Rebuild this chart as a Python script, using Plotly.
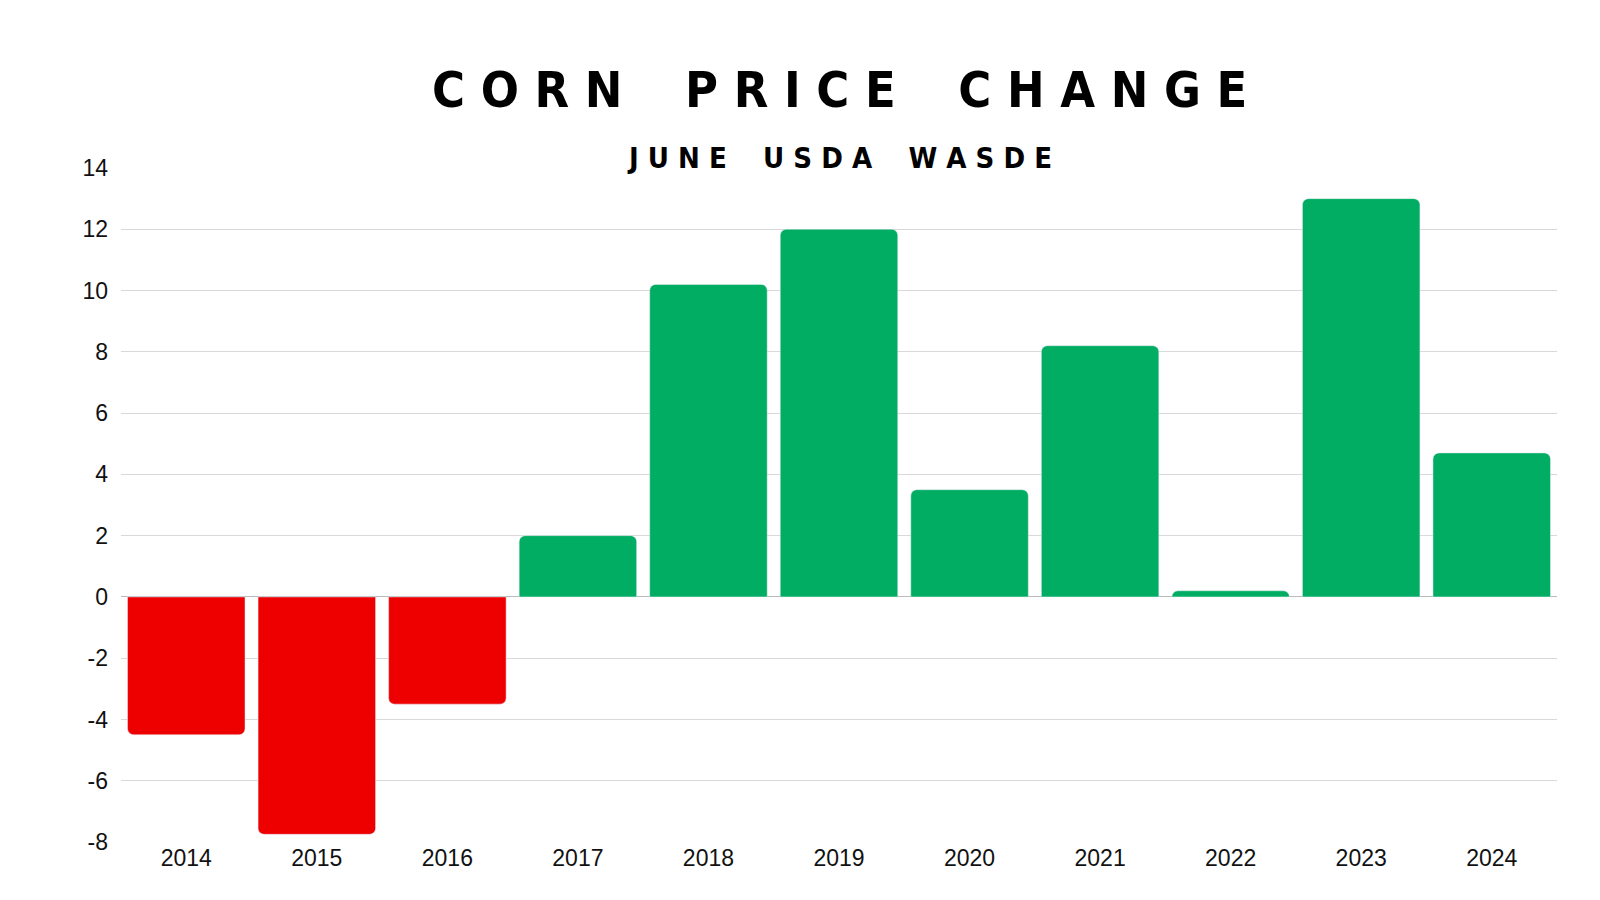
import plotly.graph_objects as go

years = ["2014", "2015", "2016", "2017", "2018", "2019", "2020", "2021", "2022", "2023", "2024"]
change = [-4.5, -7.75, -3.5, 2.0, 10.2, 12.0, 3.5, 8.2, 0.2, 13.0, 4.7]
tick_vals = list(range(-8, 15, 2))
tick_text = [str(v) for v in tick_vals]  # plain hyphens like the reference
colors = ["#ee0000" if v < 0 else "#00ad62" for v in change]


def spaced(s):
    return " ".join(ch if ch != " " else "  " for ch in s)


fig = go.Figure(go.Bar(x=years, y=change, marker=dict(color=colors, cornerradius=6)))

plot_h = 900 - 160 - 66
fig.update_layout(
    width=1600, height=900,
    margin=dict(l=113, r=51, t=160, b=66),
    plot_bgcolor="white", paper_bgcolor="white",
    bargap=0.1,
    showlegend=False,
    font=dict(family="Liberation Sans, Arial", size=23, color="#111"),
    annotations=[
        dict(text="<b>" + spaced("CORN PRICE CHANGE") + "</b>", x=0.5, xref="paper",
             y=1 + (160 - 82) / plot_h, yref="paper", yanchor="middle", showarrow=False,
             font=dict(family="DejaVu Sans Condensed", size=50, color="black")),
        dict(text="<b>" + spaced("JUNE USDA WASDE") + "</b>", x=0.5, xref="paper",
             y=1 + (160 - 150) / plot_h, yref="paper", yanchor="middle", showarrow=False,
             font=dict(family="DejaVu Sans Condensed", size=29, color="black")),
    ],
)

fig.update_xaxes(showgrid=False, ticks="", tickfont=dict(size=23))
fig.update_yaxes(range=[-8, 14], tickvals=tick_vals, ticktext=tick_text,
                 gridcolor="#d9d9d9", zeroline=True,
                 zerolinecolor="#bbbbbb", zerolinewidth=1, tickfont=dict(size=23),
                 ticklabelstandoff=12)

fig.write_html("out.html")
